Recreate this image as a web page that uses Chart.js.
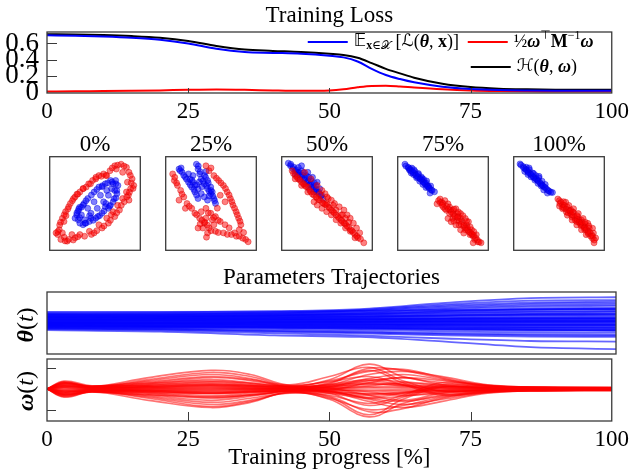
<!DOCTYPE html>
<html>
<head>
<meta charset="utf-8">
<script src="https://cdn.jsdelivr.net/npm/chart.js@4.4.1/dist/chart.umd.min.js"></script>
<style>
  html, body { margin: 0; padding: 0; background: #fff; }
  #wrap { position: relative; width: 634px; height: 471px; overflow: hidden; }
  canvas { position: absolute; }
</style>
</head>
<body>
<div id="wrap">
  <canvas id="loss" width="634" height="125" style="left:0;top:0"></canvas>
  <canvas id="sc0" width="100" height="130" style="left:45px;top:125px"></canvas>
  <canvas id="sc1" width="100" height="130" style="left:161px;top:125px"></canvas>
  <canvas id="sc2" width="100" height="130" style="left:277px;top:125px"></canvas>
  <canvas id="sc3" width="100" height="130" style="left:393px;top:125px"></canvas>
  <canvas id="sc4" width="100" height="130" style="left:509px;top:125px"></canvas>
  <canvas id="theta" width="634" height="94" style="left:0;top:262px"></canvas>
  <canvas id="omega" width="634" height="114" style="left:0;top:357px"></canvas>
</div>
<script>
/* =========================
   DATA
========================= */

const progressTicks = [0, 25, 50, 75, 100];
const lossTicks = [0, 0.2, 0.4, 0.6];

// training loss curves
const lossT = [0, 5, 10, 15, 20, 25, 30, 35, 40, 45, 50, 52.5, 55, 57.5, 60, 62.5, 65, 70, 75, 80, 85, 90, 95, 100];
const lossFit = [0.70, 0.695, 0.685, 0.67, 0.645, 0.60, 0.535, 0.495, 0.485, 0.475, 0.45, 0.43, 0.38, 0.29, 0.215, 0.165, 0.125, 0.072, 0.045, 0.032, 0.026, 0.023, 0.022, 0.021];
const lossKin = [0.012, 0.016, 0.018, 0.022, 0.027, 0.034, 0.038, 0.034, 0.026, 0.021, 0.026, 0.04, 0.065, 0.082, 0.084, 0.075, 0.062, 0.04, 0.025, 0.018, 0.015, 0.014, 0.013, 0.013];
const lossH = [0.712, 0.71, 0.703, 0.69, 0.669, 0.63, 0.569, 0.525, 0.509, 0.495, 0.474, 0.46, 0.425, 0.36, 0.29, 0.235, 0.182, 0.108, 0.067, 0.048, 0.04, 0.036, 0.035, 0.034];

// snapshots of the two classes, panel coordinates 0..100
const snapTitles = ['0%', '25%', '50%', '75%', '100%'];

const red0 = [[8.8,16.8],[10.5,22],[12.3,11.6],[19.3,9.8],[28,13.3],[38.5,15],[49,18.6],[57.8,23.8],[64.8,29],[71.8,36],[77,43],[82.3,51.8],[86.8,58.8],[89.3,65.8],[92.8,69.3],[91,76.3],[87.5,83.3],[84.7,88.6],[78.8,92],[71.8,90.3],[66.5,85],[59.5,81.6],[54.3,79.8],[47.3,74.6],[40.3,67.6],[33.3,62.3],[28,57],[22.8,50],[17.5,41.3],[14,34.3],
  [14,18.6],[24.5,16.8],[33.3,16.8],[43.8,20.3],[54.3,27.3],[63,34.3],[70,41.3],[80.5,55.3],[84.7,62.3],[85.8,72.8],[80.5,83.3],[73.5,86.8],[63,79.8],[50.8,76.3],[36.8,65.8],[26.3,55.3],[21,46.6],[15.8,30.8],[7,18.6],[21,11.6],[87.5,53.6],[75,48],[68,38],[45,71],[30,60],[18,37],
  [11,27],[16,14],[31,14.5],[46,17],[60,26],[67,32],[74,40],[79,48],[85,57],[88,62],[90,72],[89,80],[82,90],[75,91],[69,88],[62,80],[57,79],[51,78],[43,71],[37,66],[31,60],[25,53],[20,44],[16,38],[12,30],[9,20],[17,10],[26,11],[52,21],[92,66]];
const blue0 = [[29.8,37.8],[31.5,32.6],[36.8,27.3],[43.8,30.8],[50.8,34.3],[57.8,39.6],[64.8,44.8],[70,51.8],[74.2,60.6],[75.3,69.3],[72.8,74.6],[67.2,74.6],[61.3,71],[54.3,67.6],[49,62.3],[42,55.3],[36.8,48.3],[31.5,42],[45.5,39.6],[52.5,44.8],[59.5,51.8],[64.8,58.8],[68.3,65.8],[63,64],[56,58.8],[49,51.8],[42,44.8],[35,37.8],[38.5,32.6],[45.5,34.3],[71.8,64],[70,71],[33.3,29],[28,34.3],[61.3,46.6],[40,29],[55,37],[67,48],[73,56],[58,68],[38,50],[33,46],
  [30,40],[33,35],[39,29],[48,32],[53,36],[60,42],[66,47],[71,55],[74,64],[73,71],[69,73],[64,72],[58,69],[52,65],[46,59],[40,53],[35,46],[32,44],[44,37],[62,50]];

const red1 = [[7.7,81.6],[9.5,74.6],[13,69.3],[16.5,64],[20,57],[23.5,50],[28.7,44.8],[32.2,39.6],[37.5,34.3],[42.7,29],[47.9,23.8],[54.9,20.3],[63.7,18.6],[72.5,16.8],[81.2,15],[88.2,11.6],[91,9.1],[44.4,90.3],[47.9,85],[53.2,79.8],[58.4,74.6],[63.7,69.3],[67.9,62.3],[71.4,55.3],[74.2,48.3],[77.7,41.3],[80.5,34.3],[83,27.3],[81.2,22],[76,18.6],
  [39.2,41.3],[44.4,44.8],[49.7,39.6],[54.9,36],[60.2,30.8],[65.5,27.3],[51.4,32.6],[44.4,34.3],[40.9,23.8],[46.2,18.6],[53.2,27.3],[35.7,23.8],[14.7,53.6],[21.7,44.8],[60.2,58.8],[65.5,51.8],[57,45],[70,24],[86,19],[45,14],
  [10,78],[12,72],[18,60],[26,47],[34,38],[40,32],[46,27],[50,21],[58,19],[68,17],[78,15],[85,13],[50,88],[56,77],[61,72],[66,66],[70,59],[73,52],[76,45],[79,38],[82,31],[47,40],[53,35],[58,32],[43,30],[38,28]];
const blue1 = [[14.7,86.8],[18.2,83.3],[21.7,78],[25.2,72.8],[28.7,67.6],[32.2,62.3],[35.7,55.3],[33.9,92],[35.7,86.8],[37.5,81.6],[39.2,76.3],[42.7,71],[46.2,65.8],[49.7,60.6],[53.2,55.3],[55,50],[42.7,79.8],[46.2,74.6],[30.1,72.8],[32.2,69.3],[35.7,65.8],[39.2,60.6],[42.7,57],[46.2,53.6],[49.7,67.6],[51.4,62.3],[25.2,81.6],[30.1,79.8],[44.4,84.2],[27,76],[40,68],[48,58],[17,88],[37,73],
  [16,85],[20,80],[23,76],[27,70],[31,65],[34,59],[36,90],[38,84],[41,74],[45,69],[48,63],[52,58],[54,53],[44,78],[29,75],[34,70],[47,72],[50,64]];

const red2 = [[11.5,85],[14.9,79.8],[18.4,76.3],[21.9,72.8],[25.3,69.3],[28.8,67.6],[32.3,62.3],[35.7,58.8],[39.2,55.3],[42.7,53.6],[46.2,50],[49.6,48.3],[53.1,44.8],[56.6,41.3],[60,37.8],[63.5,34.3],[67,30.8],[70.4,28],[73.9,24.5],[77.4,21],[80.9,16.8],[84.3,13.3],[90.6,8],
  [25.3,83.3],[32.3,76.3],[39.2,69.3],[44.4,64],[47.9,60.5],[51.4,55.3],[54.8,53.6],[58.3,50],[63.5,46.5],[68.7,43],[72.2,37.8],[75.6,34.3],[79.1,29],[82.6,23.8],[86.1,18.6],
  [39.2,48.3],[44.4,44.8],[49.6,41.3],[54.8,37.8],[60,32.6],[65.2,29],[70.4,23.8],[75.6,20.3],[80.9,13.3],[35.7,51.8],[28.8,62.3],[21.9,69.3],[14.9,76.3],[70.4,34.3],[65.2,37.8],[60,43],[49.6,50],
  [13,82],[17,78],[20,75],[24,71],[27,68],[31,64],[34,60],[38,57],[41,54],[45,51],[48,49],[52,46],[55,43],[58,40],[62,36],[66,32],[69,29],[72,26],[76,22],[79,19],[83,15],[87,12],[42,60],[50,57],[57,48],[67,38],[74,30]];
const blue2 = [[7.3,93.1],[9.7,90.3],[12.1,87.5],[14.9,85],[17.7,83.3],[20.1,80.5],[22.6,78],[25.3,75.6],[28.1,72.8],[30.5,70],[33,67.5],[35.7,65.1],[38.5,62.3],[40.9,60.5],[43.4,58.1],[45.5,55.3],[18.4,88.5],[21.9,85],[27.1,79.8],[32.3,74.5],[37.5,69.3],[42,65.8],[14.9,81.5],[20.1,76.3],[25.3,71],[30.5,65.8],[35.7,62.3],[21.9,90.3],[28.8,83.3],[34,78],[39.2,72.8],
  [10,92],[13,89],[16,86],[19,83],[23,80],[26,77],[29,74],[32,71],[35,68],[38,65],[41,62],[44,59],[24,83],[30,78],[36,72],[17,80]];

const red3 = [[43.4,49.6],[46.8,54.8],[48.6,51.4],[52.1,53.1],[55.5,49.6],[50.3,46.2],[53.8,42.7],[57.3,46.2],[60.7,42.7],[57.3,39.2],[62.5,37.5],[65.9,39.2],[60.7,34],[65.9,32.3],[69.4,34],[71.1,30.5],[67.7,27.1],[72.9,25.3],[76.3,27.1],[74.6,21.9],[78.1,20.1],[81.5,21.9],[79.8,16.7],[83.3,14.9],[86.8,16.7],[85,11.5],[88.5,9],[92,8],[83.3,8],
  [64.2,44.4],[69.4,39.2],[74.6,34],[78.1,30.5],[55.5,34],[59,30.5],[64.2,27.1],[69.4,21.9],[72.9,18.4],[52.1,44.4],[45.1,53.1],[62,31],[67,36],[77,24],[81,18],[58,43],
  [47,51],[50,50],[54,47],[56,44],[59,41],[61,39],[63,36],[66,35],[68,31],[70,28],[73,27],[75,24],[77,22],[80,19],[82,17],[84,16],[86,13],[88,11],[90,9],[49,48],[62,44],[67,41],[72,37],[76,31],[80,25],[84,20]];
const blue3 = [[8,92],[11.5,88.8],[13.9,86.8],[16.3,84.3],[19.1,81.9],[21.9,79.1],[24.3,77],[26.7,75],[29.5,72.2],[32.3,69.4],[34.7,67],[37.1,64.5],[40.6,62.5],[35.7,61.1],[15.6,87.8],[19.1,84.3],[22.6,80.9],[26,78.4],[28.8,75.6],[31.2,72.2],[33.7,68.7],[17.4,80.9],[20.8,77.4],[24.3,73.9],[27.8,70.4],[31.2,67],[12.8,86.1],[14.9,82.6],[36.4,68.7],
  [9,90],[12,88],[14,85],[17,83],[20,80],[22,78],[25,76],[28,73],[30,71],[33,68],[35,66],[38,64],[18,86],[23,82],[27,77],[32,74]];

const red4 = [[48.7,54.8],[52.2,51.4],[50.5,47.2],[53.9,48.6],[57.4,51.4],[55.7,45.1],[59.2,46.2],[60.9,42.7],[58.1,40.9],[62.6,39.2],[66.1,40.3],[64.4,35.7],[67.9,34],[70.6,35.7],[69.6,30.5],[73.1,29.8],[74.8,32.3],[74.1,26.4],[77.6,25.3],[79,27.8],[78.3,21.9],[81.8,20.8],[83.5,23.6],[82.5,17.4],[86,16.7],[88,18.4],[87,12.5],[90.5,13.2],[88.7,8],
  [50.5,53.1],[53.9,44.4],[59.2,37.5],[64.4,32.3],[69.6,27.1],[74.8,21.9],[80,16.7],[60.9,47.9],[66.1,44.4],[71.3,39.2],[76.6,34],[81.8,28.8],[87,23.6],[63,43],[72,33],[79,24],
  [51,50],[54,46],[56,48],[58,44],[60,40],[62,42],[64,38],[66,37],[68,32],[70,33],[72,30],[74,28],[76,27],[78,24],[80,22],[82,19],[84,19],[85,15],[87,15],[89,11],[55,52],[65,41],[70,37],[75,30],[79,30],[83,26]];
const blue4 = [[7,92.3],[10.4,89.5],[12.9,86.8],[15.7,84.3],[18.4,81.9],[20.9,79.1],[23.3,77],[26.1,75],[28.9,72.2],[31.3,69.7],[33.8,67.3],[36.5,65.2],[39.3,63.2],[42.8,61.8],[37.2,61.1],[13.9,88.8],[17.4,86.1],[20.9,82.6],[24.4,79.8],[27.8,77.4],[31.3,73.9],[34.8,70.4],[19.1,78.4],[23.3,75],[26.8,71.5],[30.3,68.7],[12.2,84.3],[15.7,80.9],[33.1,64.5],
  [8,91],[11,88],[14,86],[16,83],[19,81],[22,78],[25,76],[27,74],[30,71],[32,69],[35,67],[38,64],[41,62],[17,88],[22,82],[28,79]];

// parameter trajectories theta(t)
const thetaT = [0, 20, 40, 55, 70, 85, 100];
const thetaLines = [
  [0.33, 0.34, 0.38, 0.45, 0.65, 0.80, 0.83],
  [0.30, 0.31, 0.34, 0.42, 0.60, 0.72, 0.74],
  [0.27, 0.28, 0.31, 0.38, 0.52, 0.62, 0.64],
  [0.25, 0.26, 0.28, 0.33, 0.45, 0.53, 0.55],
  [0.22, 0.23, 0.25, 0.30, 0.40, 0.47, 0.49],
  [0.20, 0.21, 0.23, 0.27, 0.36, 0.42, 0.44],
  [0.18, 0.19, 0.21, 0.24, 0.31, 0.36, 0.38],
  [0.16, 0.17, 0.18, 0.21, 0.27, 0.31, 0.33],
  [0.14, 0.15, 0.16, 0.18, 0.23, 0.27, 0.28],
  [0.12, 0.13, 0.14, 0.16, 0.20, 0.23, 0.24],
  [0.10, 0.11, 0.12, 0.13, 0.16, 0.19, 0.20],
  [0.08, 0.09, 0.10, 0.11, 0.13, 0.15, 0.16],
  [0.06, 0.07, 0.07, 0.08, 0.10, 0.11, 0.12],
  [0.04, 0.05, 0.05, 0.06, 0.07, 0.08, 0.08],
  [0.02, 0.02, 0.03, 0.03, 0.04, 0.04, 0.05],
  [0.00, 0.00, 0.00, 0.00, 0.00, 0.01, 0.01],
  [-0.02, -0.02, -0.03, -0.03, -0.04, -0.04, -0.04],
  [-0.04, -0.04, -0.05, -0.06, -0.07, -0.08, -0.08],
  [-0.06, -0.07, -0.08, -0.09, -0.11, -0.12, -0.12],
  [-0.08, -0.09, -0.10, -0.12, -0.14, -0.16, -0.16],
  [-0.10, -0.11, -0.13, -0.15, -0.18, -0.20, -0.21],
  [-0.12, -0.13, -0.15, -0.18, -0.22, -0.25, -0.26],
  [-0.14, -0.16, -0.19, -0.22, -0.27, -0.31, -0.32],
  [-0.16, -0.18, -0.23, -0.27, -0.33, -0.37, -0.38],
  [-0.18, -0.21, -0.28, -0.33, -0.40, -0.44, -0.45],
  [-0.20, -0.24, -0.33, -0.40, -0.50, -0.58, -0.60],
  [-0.23, -0.28, -0.40, -0.45, -0.60, -0.78, -0.84],
  [0.24, 0.24, 0.25, 0.27, 0.33, 0.37, 0.38],
  [0.19, 0.19, 0.20, 0.21, 0.24, 0.26, 0.27],
  [0.13, 0.13, 0.13, 0.14, 0.15, 0.16, 0.16],
  [0.09, 0.09, 0.09, 0.10, 0.11, 0.12, 0.12],
  [0.03, 0.03, 0.03, 0.04, 0.05, 0.06, 0.06],
  [-0.01, -0.01, -0.01, -0.02, -0.02, -0.02, -0.02],
  [-0.05, -0.05, -0.06, -0.06, -0.07, -0.07, -0.07],
  [-0.09, -0.10, -0.11, -0.13, -0.15, -0.17, -0.18],
  [-0.13, -0.14, -0.16, -0.18, -0.20, -0.22, -0.23],
  [0.26, 0.27, 0.29, 0.34, 0.48, 0.57, 0.59],
  [0.21, 0.22, 0.24, 0.29, 0.38, 0.44, 0.46],
  [-0.17, -0.20, -0.26, -0.30, -0.36, -0.40, -0.41],
  [0.36, 0.36, 0.37, 0.39, 0.42, 0.44, 0.45],
  [0.17, 0.17, 0.18, 0.20, 0.25, 0.29, 0.30],
  [0.11, 0.11, 0.12, 0.12, 0.14, 0.15, 0.15],
  [0.05, 0.05, 0.05, 0.05, 0.06, 0.07, 0.07],
  [-0.03, -0.03, -0.04, -0.05, -0.05, -0.06, -0.06],
  [-0.07, -0.08, -0.09, -0.10, -0.12, -0.13, -0.14],
  [-0.11, -0.12, -0.14, -0.16, -0.19, -0.22, -0.23],
  [0.29, 0.30, 0.33, 0.40, 0.56, 0.66, 0.69],
  [0.01, 0.01, 0.02, 0.02, 0.03, 0.03, 0.03]
];

// momentum trajectories omega(t)
const omegaT = [0, 3, 8, 18, 29, 36, 43, 50, 57, 63, 70, 78, 88, 100];
const omegaTicks = [-1, 1];
const omegaLines = [
  [0, 0.35, 0.12, 0.55, 0.90, 0.70, 0.18, 0.45, 1.20, 0.60, 0.30, 0.12, 0.08, 0.07],
  [0, -0.40, -0.15, -0.55, -0.90, -0.65, -0.15, -0.50, -1.35, -0.70, -0.30, -0.12, -0.08, -0.07],
  [0, 0.30, 0.10, 0.40, 0.70, 0.50, 0.10, 0.30, 1.00, 0.90, 0.50, 0.15, 0.09, 0.06],
  [0, -0.30, -0.12, -0.40, -0.75, -0.55, -0.18, -0.35, -1.10, -0.95, -0.45, -0.15, -0.08, -0.06],
  [0, 0.22, 0.08, 0.30, 0.55, 0.40, 0.08, -0.20, -0.80, -0.40, 0.20, 0.10, 0.05, 0.04],
  [0, -0.22, -0.10, -0.30, -0.55, -0.35, -0.05, 0.25, 0.90, 0.30, -0.25, -0.10, -0.05, -0.04],
  [0, 0.38, 0.15, 0.20, 0.35, 0.25, 0.12, 0.20, 0.70, 0.85, 0.60, 0.20, 0.07, 0.05],
  [0, -0.35, -0.12, -0.20, -0.40, -0.30, -0.10, -0.15, -0.60, -0.90, -0.60, -0.20, -0.08, -0.05],
  [0, 0.15, 0.05, 0.15, 0.25, 0.18, 0.15, 0.35, 0.60, 0.20, -0.30, -0.15, -0.04, -0.03],
  [0, -0.15, -0.06, -0.12, -0.22, -0.15, -0.12, -0.30, -0.70, -0.30, 0.30, 0.15, 0.04, 0.03],
  [0, 0.28, 0.10, 0.10, 0.15, 0.10, 0.05, 0.10, 0.40, 0.55, 0.40, 0.15, 0.06, 0.04],
  [0, -0.28, -0.09, -0.08, -0.15, -0.10, -0.06, -0.10, -0.45, -0.60, -0.35, -0.12, -0.05, -0.04],
  [0, 0.18, 0.06, 0.25, 0.45, 0.30, 0.12, 0.05, -0.30, -0.55, -0.20, -0.05, 0.02, 0.02],
  [0, -0.18, -0.07, -0.25, -0.45, -0.30, -0.12, -0.05, 0.30, 0.55, 0.20, 0.05, -0.02, -0.02],
  [0, 0.08, 0.03, 0.08, 0.12, 0.08, 0.02, 0.08, 0.25, 0.15, 0.05, 0.03, 0.02, 0.01],
  [0, -0.08, -0.03, -0.08, -0.12, -0.08, -0.02, -0.08, -0.25, -0.15, -0.05, -0.03, -0.02, -0.01],
  [0, 0.12, 0.04, 0.05, 0.08, 0.05, 0.03, 0.05, 0.15, 0.30, 0.15, 0.05, 0.03, 0.02],
  [0, -0.12, -0.04, -0.05, -0.08, -0.05, -0.03, -0.05, -0.15, -0.30, -0.15, -0.05, -0.03, -0.02],
  [0, 0.32, 0.13, 0.35, 0.60, 0.45, 0.20, 0.60, 1.05, 0.40, -0.10, -0.08, 0.00, 0.01],
  [0, -0.36, -0.14, -0.35, -0.65, -0.45, -0.20, -0.40, -1.25, -0.50, 0.10, 0.06, 0.01, 0.00],
  [0, 0.25, 0.09, 0.20, 0.30, 0.20, 0.06, 0.15, 0.50, 0.70, 0.45, 0.18, 0.08, 0.07],
  [0, -0.25, -0.09, -0.18, -0.32, -0.22, -0.07, -0.12, -0.50, -0.75, -0.50, -0.18, -0.08, -0.07],
  [0, 0.05, 0.02, 0.03, 0.05, 0.03, 0.01, 0.03, 0.10, 0.10, 0.06, 0.03, 0.01, 0.00],
  [0, -0.05, -0.02, -0.03, -0.05, -0.03, -0.01, -0.03, -0.10, -0.10, -0.06, -0.03, -0.01, 0.00],
  [0, 0.15, 0.05, 0.12, 0.20, 0.15, 0.04, -0.12, -0.40, -0.20, 0.10, 0.05, 0.03, 0.03],
  [0, -0.15, -0.05, -0.12, -0.20, -0.15, -0.04, 0.12, 0.40, 0.20, -0.10, -0.05, -0.03, -0.03],
  [0, 0.30, 0.11, 0.45, 0.80, 0.60, 0.14, 0.40, 0.85, 0.95, 0.55, 0.18, 0.09, 0.08],
  [0, -0.30, -0.11, -0.45, -0.85, -0.60, -0.16, -0.45, -1.00, -0.80, -0.40, -0.16, -0.09, -0.08],
  [0, 0.20, 0.08, 0.10, 0.18, 0.12, 0.08, 0.12, 0.22, 0.18, 0.10, 0.06, 0.05, 0.05],
  [0, -0.20, -0.08, -0.10, -0.18, -0.12, -0.08, -0.12, -0.22, -0.18, -0.10, -0.06, -0.05, -0.05],
  [0, 0.10, 0.12, 0.16, 0.22, 0.16, 0.10, 0.18, 0.30, 0.22, 0.12, 0.08, 0.06, 0.06],
  [0, -0.10, -0.12, -0.16, -0.22, -0.16, -0.10, -0.18, -0.30, -0.22, -0.12, -0.08, -0.06, -0.06],
  [0, 0.04, 0.00, 0.02, 0.02, 0.01, 0.00, 0.02, 0.05, 0.04, 0.02, 0.01, 0.01, 0.01],
  [0, -0.04, 0.00, -0.02, -0.02, -0.01, 0.00, -0.02, -0.05, -0.04, -0.02, -0.01, -0.01, -0.01],
  [0, 0.26, 0.14, 0.28, 0.38, 0.28, 0.10, 0.22, 0.45, 0.35, 0.20, 0.10, 0.07, 0.06],
  [0, -0.26, -0.14, -0.28, -0.38, -0.28, -0.10, -0.22, -0.45, -0.35, -0.20, -0.10, -0.07, -0.06]
];

/* =========================
   HELPERS
========================= */

const FAM = '"Liberation Serif", "DejaVu Serif", serif';
const rm = n => `${n}px ${FAM}`;
const it = n => `italic ${n}px ${FAM}`;
const bf = n => `bold ${n}px ${FAM}`;
const bi = n => `italic bold ${n}px ${FAM}`;
const sym = n => `${n}px "DejaVu Sans", ${FAM}`;

const xy = (xs, ys) => xs.map((x, i) => ({ x: x, y: ys[i] }));
const pts = arr => arr.map(p => ({ x: p[0], y: p[1] }));

function richWidth(ctx, segs) {
  let w = 0;
  segs.forEach(s => { ctx.font = s.f; w += ctx.measureText(s.t).width; });
  return w;
}

function drawRich(ctx, x, y, segs) {
  let cx = x;
  segs.forEach(s => {
    ctx.font = s.f;
    ctx.fillText(s.t, cx, y + (s.dy || 0));
    cx += ctx.measureText(s.t).width;
  });
  return cx - x;
}

// box around the plot area + ticks pointing inwards
const framePlugin = {
  id: 'frame',
  afterDatasetsDraw(chart, args, opts) {
    const { ctx, chartArea: a } = chart;
    ctx.save();
    ctx.strokeStyle = '#3a3a3a';
    ctx.lineWidth = 1.3;
    ctx.strokeRect(a.left, a.top, a.right - a.left, a.bottom - a.top);
    ctx.lineWidth = 1;
    ctx.beginPath();
    (opts.xTicks || []).forEach(v => {
      const px = Math.round(chart.scales.x.getPixelForValue(v)) + 0.5;
      ctx.moveTo(px, a.bottom);
      ctx.lineTo(px, a.bottom - opts.xLen);
    });
    (opts.yTicks || []).forEach(v => {
      const py = Math.round(chart.scales.y.getPixelForValue(v)) + 0.5;
      ctx.moveTo(a.left, py);
      ctx.lineTo(a.left + opts.yLen, py);
    });
    ctx.stroke();
    ctx.restore();
  }
};

// legend drawn inside the loss plot
const lossLegendPlugin = {
  id: 'lossLegend',
  afterDraw(chart) {
    const { ctx, chartArea: a } = chart;
    const ds = chart.data.datasets;
    const items = [
      { d: ds[0], x: a.right - 304, y: a.top + 10, segs: [
        { t: '𝔼', f: sym(17) },
        { t: 'x', f: bf(12), dy: 4 }, { t: '∈', f: rm(12), dy: 4 }, { t: '𝒳', f: sym(12), dy: 4 },
        { t: ' [', f: rm(18) }, { t: 'ℒ', f: sym(17) }, { t: '(', f: rm(18) },
        { t: 'θ', f: bi(18) }, { t: ', ', f: rm(18) }, { t: 'x', f: bf(18) }, { t: ')]', f: rm(18) }
      ] },
      { d: ds[1], x: a.right - 144, y: a.top + 10, segs: [
        { t: '½', f: rm(18) }, { t: 'ω', f: bi(18) }, { t: '⊤', f: sym(12), dy: -6 },
        { t: 'M', f: bf(18) }, { t: '−1', f: rm(12), dy: -6 }, { t: 'ω', f: bi(18) }
      ] },
      { d: ds[2], x: a.right - 141, y: a.top + 35, segs: [
        { t: 'ℋ', f: sym(17) }, { t: '(', f: rm(18) }, { t: 'θ', f: bi(18) },
        { t: ', ', f: rm(18) }, { t: 'ω', f: bi(18) }, { t: ')', f: rm(18) }
      ] }
    ];
    ctx.save();
    ctx.textBaseline = 'middle';
    ctx.fillStyle = '#000';
    items.forEach(item => {
      ctx.strokeStyle = item.d.borderColor;
      ctx.lineWidth = 2;
      ctx.beginPath();
      ctx.moveTo(item.x, item.y);
      ctx.lineTo(item.x + 40, item.y);
      ctx.stroke();
      drawRich(ctx, item.x + 46, item.y, item.segs);
    });
    ctx.restore();
  }
};

// rotated y labels for the trajectory panels
const sideLabelPlugin = {
  id: 'sideLabel',
  afterDraw(chart, args, opts) {
    if (!opts.segs) return;
    const { ctx, chartArea: a } = chart;
    ctx.save();
    ctx.fillStyle = '#000';
    ctx.textBaseline = 'middle';
    const w = richWidth(ctx, opts.segs);
    ctx.translate(opts.x, (a.top + a.bottom) / 2 + (opts.dy || 0));
    ctx.rotate(-Math.PI / 2);
    drawRich(ctx, -w / 2, 0, opts.segs);
    ctx.restore();
  }
};

const noInteraction = { responsive: false, animation: false, events: [] };

function progressAxis(showLabels, extra) {
  return Object.assign({
    type: 'linear',
    min: 0,
    max: 100,
    display: showLabels,
    afterBuildTicks: s => { s.ticks = progressTicks.map(v => ({ value: v })); },
    grid: { display: false, drawTicks: false },
    border: { display: false },
    ticks: { autoSkip: false, maxRotation: 0, color: '#000', padding: 5, font: { family: FAM, size: 23 } }
  }, extra || {});
}

/* =========================
   TRAINING LOSS
========================= */

new Chart(document.getElementById('loss'), {
  type: 'line',
  data: {
    datasets: [
      { label: 'fit', data: xy(lossT, lossFit), borderColor: '#0000ff', borderWidth: 2, pointRadius: 0, cubicInterpolationMode: 'monotone' },
      { label: 'kinetic', data: xy(lossT, lossKin), borderColor: '#ff0000', borderWidth: 2, pointRadius: 0, cubicInterpolationMode: 'monotone' },
      { label: 'hamiltonian', data: xy(lossT, lossH), borderColor: '#000000', borderWidth: 2, pointRadius: 0, cubicInterpolationMode: 'monotone' }
    ]
  },
  options: Object.assign({}, noInteraction, {
    layout: { padding: { right: 18 } },
    scales: {
      x: progressAxis(true, { afterFit: s => { s.height = 32; } }),
      y: {
        min: -0.005,
        max: 0.74,
        afterBuildTicks: s => { s.ticks = lossTicks.map(v => ({ value: v })); },
        afterFit: s => { s.width = 47; },
        grid: { display: false, drawTicks: false },
        border: { display: false },
        ticks: {
          autoSkip: false, color: '#000', padding: 8, font: { family: FAM, size: 27 },
          callback: v => v === 0 ? '0' : v.toFixed(1)
        }
      }
    },
    plugins: {
      legend: { display: false },
      tooltip: { enabled: false },
      title: {
        display: true, text: 'Training Loss', fullSize: false, color: '#000',
        font: { family: FAM, size: 23, weight: 'normal', lineHeight: 1.2 },
        padding: { top: 2.2, bottom: 2.2 }
      },
      frame: { xTicks: [25, 50, 75], xLen: 5, yTicks: [0.2, 0.4, 0.6], yLen: 10 }
    }
  }),
  plugins: [framePlugin, lossLegendPlugin]
});

/* =========================
   SNAPSHOT PANELS
========================= */

function snapshot(id, title, red, blue) {
  new Chart(document.getElementById(id), {
    type: 'scatter',
    data: {
      datasets: [
        { data: pts(red), backgroundColor: 'rgba(255,0,0,0.5)', borderColor: 'rgba(215,0,0,0.6)', borderWidth: 0.7, pointRadius: 3 },
        { data: pts(blue), backgroundColor: 'rgba(0,0,255,0.5)', borderColor: 'rgba(0,0,215,0.6)', borderWidth: 0.7, pointRadius: 3 }
      ]
    },
    options: Object.assign({}, noInteraction, {
      layout: { padding: { left: 2, right: 2, bottom: 2 } },
      scales: {
        x: { display: false, min: 0, max: 100 },
        y: { display: false, min: 0, max: 100 }
      },
      plugins: {
        legend: { display: false },
        tooltip: { enabled: false },
        title: {
          display: true, text: title, color: '#000',
          font: { family: FAM, size: 23, weight: 'normal', lineHeight: 1 },
          padding: { top: 8.5, bottom: 0.2 }
        },
        frame: {}
      }
    }),
    plugins: [framePlugin]
  });
}

snapshot('sc0', snapTitles[0], red0, blue0);
snapshot('sc1', snapTitles[1], red1, blue1);
snapshot('sc2', snapTitles[2], red2, blue2);
snapshot('sc3', snapTitles[3], red3, blue3);
snapshot('sc4', snapTitles[4], red4, blue4);

/* =========================
   PARAMETER TRAJECTORIES
========================= */

new Chart(document.getElementById('theta'), {
  type: 'line',
  data: {
    datasets: thetaLines.map(line => ({
      data: xy(thetaT, line), borderColor: 'rgba(0,0,255,0.6)', borderWidth: 1.8,
      pointRadius: 0, cubicInterpolationMode: 'monotone'
    }))
  },
  options: Object.assign({}, noInteraction, {
    layout: { padding: { left: 47, right: 18, bottom: 2 } },
    scales: {
      x: progressAxis(false),
      y: { display: false, min: -1, max: 1 }
    },
    plugins: {
      legend: { display: false },
      tooltip: { enabled: false },
      title: {
        display: true, text: 'Parameters Trajectories', fullSize: false, color: '#000',
        font: { family: FAM, size: 23, weight: 'normal', lineHeight: 1.2 },
        padding: { top: 2.2, bottom: 0.2 }
      },
      frame: {},
      sideLabel: { x: 27, dy: 2, segs: [{ t: 'θ', f: bi(24) }, { t: '(', f: rm(24) }, { t: 't', f: it(24) }, { t: ')', f: rm(24) }] }
    }
  }),
  plugins: [framePlugin, sideLabelPlugin]
});

new Chart(document.getElementById('omega'), {
  type: 'line',
  data: {
    datasets: omegaLines.map(line => ({
      data: xy(omegaT, line), borderColor: 'rgba(255,0,0,0.55)', borderWidth: 1.6,
      pointRadius: 0, tension: 0.4
    }))
  },
  options: Object.assign({}, noInteraction, {
    layout: { padding: { left: 47, right: 18, top: 2 } },
    scales: {
      x: progressAxis(true, {
        afterFit: s => { s.height = 50; },
        title: {
          display: true, text: 'Training progress [%]', color: '#000',
          font: { family: FAM, size: 23, weight: 'normal', lineHeight: 1.1 },
          padding: { top: 0, bottom: 0 }
        }
      }),
      y: { display: false, min: -1.55, max: 1.45 }
    },
    plugins: {
      legend: { display: false },
      tooltip: { enabled: false },
      frame: { xTicks: [25, 50, 75], xLen: 9, yTicks: omegaTicks, yLen: 9 },
      sideLabel: { x: 27, dy: 1, segs: [{ t: 'ω', f: bi(24) }, { t: '(', f: rm(24) }, { t: 't', f: it(24) }, { t: ')', f: rm(24) }] }
    }
  }),
  plugins: [framePlugin, sideLabelPlugin]
});
</script>
</body>
</html>
